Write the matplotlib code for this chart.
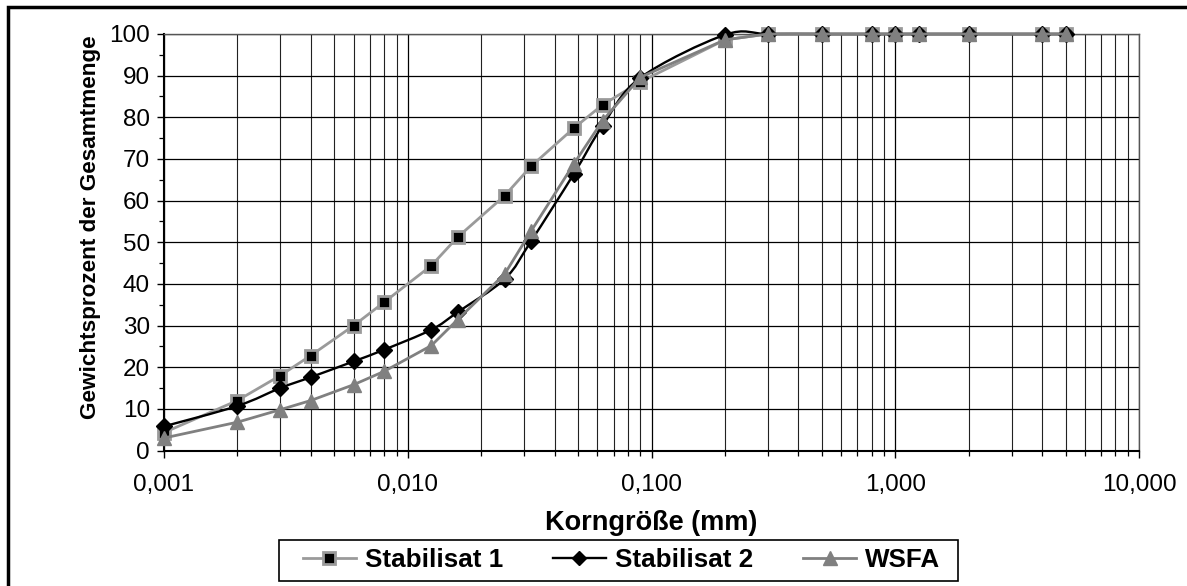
import numpy as np
import matplotlib
matplotlib.use("Agg")
import matplotlib.pyplot as plt
from matplotlib.path import Path
from matplotlib.patches import PathPatch, Rectangle
from matplotlib.lines import Line2D
from matplotlib.ticker import FixedLocator, FuncFormatter, NullFormatter

plt.rcParams['font.family'] = ['Liberation Sans', 'DejaVu Sans']

# Grain size (mm) for each sieve / laser class
x_stab1 = [0.001, 0.002, 0.003, 0.004, 0.006, 0.008, 0.0125, 0.016, 0.025, 0.032,
           0.048, 0.063, 0.09, 0.2, 0.3, 0.5, 0.8, 1.0, 1.25, 2.0, 4.0, 5.0]
x_stab2 = x_stab1
x_wsfa = x_stab1

# Cumulative passing (weight %)
y_stab1 = [4.3, 12.0, 18.0, 22.8, 30.0, 35.6, 44.4, 51.2, 61.2, 68.2,
           77.4, 83.0, 88.5, 98.6, 100, 100, 100, 100, 100, 100, 100, 100]
y_stab2 = [5.8, 10.7, 15.0, 17.6, 21.4, 24.2, 29.0, 33.2, 41.2, 50.2,
           66.4, 78.0, 89.5, 99.8, 100, 100, 100, 100, 100, 100, 100, 100]
y_wsfa = [3.0, 6.8, 9.8, 12.0, 15.8, 19.0, 25.2, 31.4, 42.4, 52.6,
          68.8, 79.2, 89.6, 98.6, 100, 100, 100, 100, 100, 100, 100, 100]

labels = ["Stabilisat 1", "Stabilisat 2", "WSFA"]
x_ticklabels = ["0,001", "0,010", "0,100", "1,000", "10,000"]

W, H = 1187, 586


def smooth_path(xs, ys):
    """Bezier curve through the points (Catmull-Rom style, in log-x space)."""
    lx = np.log10(np.asarray(xs, float))
    yy = np.asarray(ys, float)
    pts = np.column_stack([lx, yy])
    n = len(pts)
    verts = [pts[0]]
    codes = [Path.MOVETO]
    for i in range(n - 1):
        p0 = pts[i - 1] if i > 0 else pts[i]
        p1 = pts[i]
        p2 = pts[i + 1]
        p3 = pts[i + 2] if i + 2 < n else pts[i + 1]
        c1 = p1 + (p2 - p0) / 6.0
        c2 = p2 - (p3 - p1) / 6.0
        verts += [c1, c2, p2]
        codes += [Path.CURVE4] * 3
    verts = np.array(verts)
    verts[:, 0] = 10 ** verts[:, 0]
    return Path(verts, codes)


def fx(px):
    return px / W


def fy(py):
    return 1 - py / H


fig = plt.figure(figsize=(W / 100, H / 100), dpi=100)
ax = fig.add_axes([fx(164), fy(450.5), (1139 - 164) / W, (450.5 - 34) / H])

ax.set_xscale('log')
ax.set_xlim(0.001, 10)
ax.set_ylim(0, 100)

c_sq_line = '#9a9a9a'
c_tri = '#808080'

# Stabilisat 1: grey line, black squares with grey rim
ax.plot(x_stab1, y_stab1, color=c_sq_line, lw=2.0, marker='s', ms=8.5,
        mfc='black', mec=c_sq_line, mew=2.0, zorder=3, clip_on=False)

# Stabilisat 2: smoothed black line with black diamonds
patch = PathPatch(smooth_path(x_stab2, y_stab2), fill=False, edgecolor='black',
                  lw=1.7, zorder=4, clip_on=False)
ax.add_patch(patch)
ax.plot(x_stab2, y_stab2, ls='none', marker='D', ms=8, mfc='black', mec='black',
        zorder=4, clip_on=False)

# WSFA: grey line with grey triangles
ax.plot(x_wsfa, y_wsfa, color=c_tri, lw=2.0, marker='^', ms=10.5,
        mfc=c_tri, mec=c_tri, zorder=5, clip_on=False)

# Axes styling
ax.yaxis.set_major_locator(FixedLocator(np.arange(0, 101, 10)))
ax.yaxis.set_minor_locator(FixedLocator(np.arange(5, 100, 10)))
ax.xaxis.set_major_locator(FixedLocator([0.001, 0.01, 0.1, 1, 10]))
minors = [m * d for d in [0.001, 0.01, 0.1, 1] for m in range(2, 10)]
ax.xaxis.set_minor_locator(FixedLocator(minors))
ax.xaxis.set_major_formatter(FuncFormatter(
    lambda v, p: x_ticklabels[int(round(np.log10(v))) + 3]))
ax.xaxis.set_minor_formatter(NullFormatter())

ax.grid(True, which='major', axis='both', color='black', lw=0.9, zorder=1)
ax.grid(True, which='minor', axis='x', color='#222222', lw=0.8, zorder=1)
ax.set_axisbelow(True)

for side in ['top', 'right']:
    ax.spines[side].set_color('#555555')
    ax.spines[side].set_linewidth(1.0)
for side in ['left', 'bottom']:
    ax.spines[side].set_color('black')
    ax.spines[side].set_linewidth(1.5)

ax.tick_params(axis='both', which='major', direction='out', length=5, width=1,
               labelsize=17.5, color='black', pad=5)
ax.tick_params(axis='both', which='minor', direction='out', length=3.5, width=0.9,
               color='black')
ax.tick_params(axis='x', which='major', pad=12)

# Axis titles, centred on the plot area
fig.text(fx(651), fy(530), "Korngröße (mm)", fontsize=19.5, fontweight='bold',
         ha='center', va='baseline')
fig.text(fx(91), fy(227), "Gewichtsprozent der Gesamtmenge", fontsize=16.2,
         fontweight='bold', rotation=90, ha='center', va='center')

# Legend below the x-axis title, inside its own box
handles = [
    Line2D([], [], color=c_sq_line, lw=2.0, marker='s', ms=8.5, mfc='black',
           mec=c_sq_line, mew=2.0),
    Line2D([], [], color='black', lw=1.7, marker='D', ms=7.5, mfc='black', mec='black'),
    Line2D([], [], color=c_tri, lw=2.0, marker='^', ms=10.5, mfc=c_tri, mec=c_tri),
]
leg = fig.legend(handles, labels, loc='center', ncol=3,
                 bbox_to_anchor=(fx(621.5), fy(560)),
                 prop={'size': 18.7, 'weight': 'bold'}, frameon=False,
                 handlelength=2.04, handletextpad=0.35,
                 columnspacing=1.92, borderpad=0.0, borderaxespad=0)
fig.patches.append(Rectangle((fx(279), fy(581)), (958 - 279) / W, (581 - 540) / H,
                             transform=fig.transFigure, fill=False,
                             edgecolor='black', lw=1.2))

# Outer chart frame
fig.patches.append(Rectangle((fx(8), -0.05), 1.2, fy(7) + 0.05,
                             transform=fig.transFigure, fill=False,
                             edgecolor='black', lw=2.5))

fig.savefig("out.png", dpi=100, facecolor='white')
